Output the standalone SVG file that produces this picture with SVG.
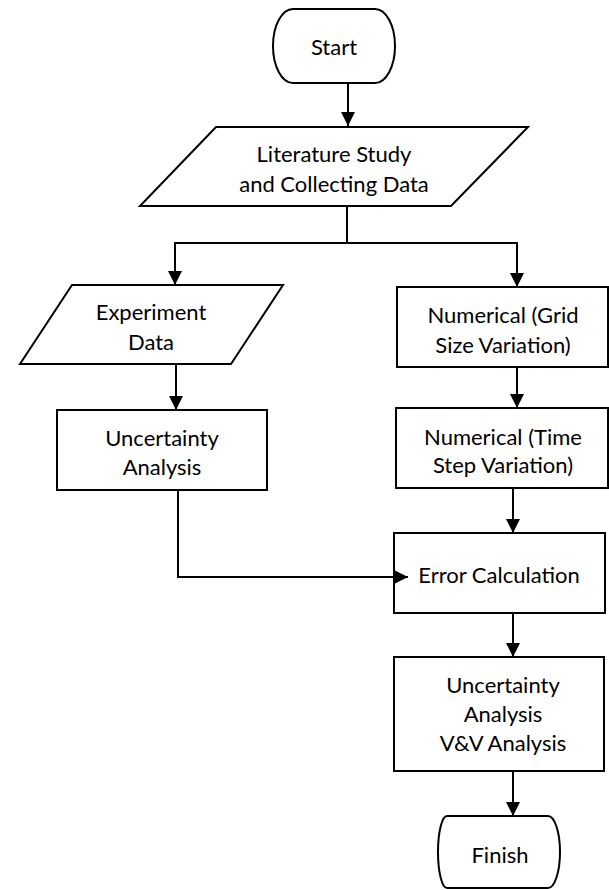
<svg xmlns="http://www.w3.org/2000/svg" width="609" height="890" viewBox="0 0 609 890">
<style>
.shape{fill:#fff;stroke:#000;stroke-width:2}
.lbl{font-family:Lato,"Open Sans",sans-serif;font-size:22px;fill:#000;text-anchor:middle}
.conn{fill:none;stroke:#000;stroke-width:2}
</style>
<defs>
<marker id="arr" markerUnits="userSpaceOnUse" markerWidth="14" markerHeight="14" refX="14" refY="7" orient="auto">
<path d="M0,0 L14,7 L0,14 z" fill="#000"/>
</marker>
</defs>
<rect width="609" height="890" fill="#fff"/>
<g id="start">
<path class="shape" d="M293,9 H375 A20,37 0 0 1 375,83 H293 A20,37 0 0 1 293,9 z"/>
<text class="lbl" x="334" y="55">Start</text>
</g>
<g id="literature">
<path class="shape" d="M216,127 H528 L451,206 H140 z"/>
<text class="lbl" x="334" y="162">Literature Study</text>
<text class="lbl" x="334" y="192">and Collecting Data</text>
</g>
<g id="experiment">
<path class="shape" d="M72,285 H283 L231,364 H20 z"/>
<text class="lbl" x="151" y="320">Experiment</text>
<text class="lbl" x="151" y="350">Data</text>
</g>
<g id="uncertainty1">
<rect class="shape" x="57" y="410" width="210" height="80"/>
<text class="lbl" x="162" y="446">Uncertainty</text>
<text class="lbl" x="162" y="475">Analysis</text>
</g>
<g id="grid">
<rect class="shape" x="397" y="287" width="211" height="80"/>
<text class="lbl" x="503" y="323">Numerical (Grid</text>
<text class="lbl" x="503" y="353">Size Variation)</text>
</g>
<g id="timestep">
<rect class="shape" x="396" y="408" width="212" height="80"/>
<text class="lbl" x="503" y="445">Numerical (Time</text>
<text class="lbl" x="503" y="473">Step Variation)</text>
</g>
<g id="error">
<rect class="shape" x="394" y="533" width="211" height="80"/>
<text class="lbl" x="499" y="583">Error Calculation</text>
</g>
<g id="uncertainty2">
<rect class="shape" x="394" y="657" width="210" height="114"/>
<text class="lbl" x="503" y="693">Uncertainty</text>
<text class="lbl" x="503" y="722">Analysis</text>
<text class="lbl" x="503" y="751">V&amp;V Analysis</text>
</g>
<g id="finish">
<path class="shape" d="M447,816 H548 A12,36 0 0 1 548,888 H447 A9,36 0 0 1 447,816 z"/>
<text class="lbl" x="500" y="863">Finish</text>
</g>
<g id="connectors">
<path class="conn" d="M348,83 V126" marker-end="url(#arr)"/>
<path class="conn" d="M347,206 V243"/>
<path class="conn" d="M347,243 H175 V285" marker-end="url(#arr)"/>
<path class="conn" d="M347,243 H517 V287" marker-end="url(#arr)"/>
<path class="conn" d="M176,364 V410" marker-end="url(#arr)"/>
<path class="conn" d="M178,490 V577 H408" marker-end="url(#arr)"/>
<path class="conn" d="M517,367 V408" marker-end="url(#arr)"/>
<path class="conn" d="M513,488 V533" marker-end="url(#arr)"/>
<path class="conn" d="M513,613 V657" marker-end="url(#arr)"/>
<path class="conn" d="M513,771 V816" marker-end="url(#arr)"/>
</g>
</svg>
